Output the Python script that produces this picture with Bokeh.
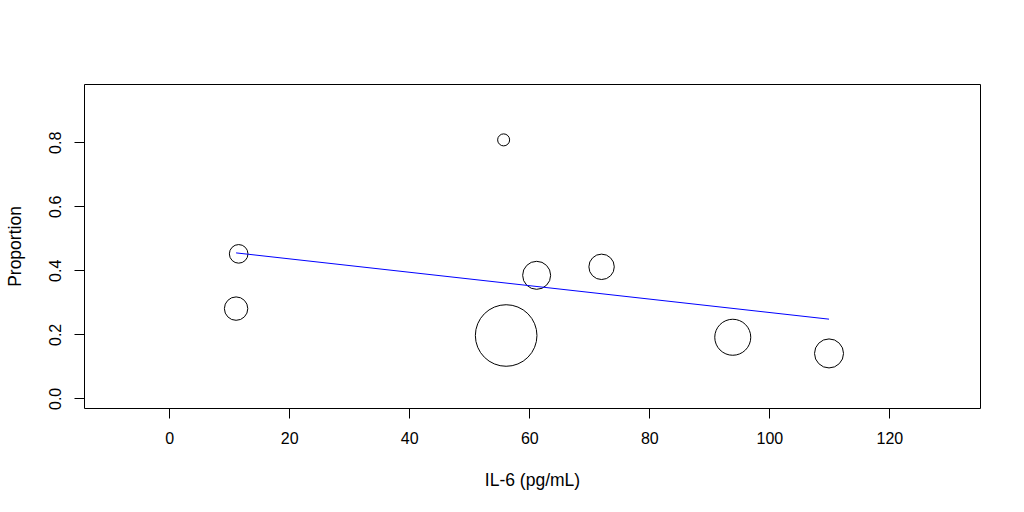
from bokeh.plotting import figure
from bokeh.models import Range1d, FixedTicker
from bokeh.embed import file_html
from bokeh.resources import INLINE

# Data (meta-regression bubble plot)
il6 = [11.06, 11.49, 55.64, 56.06, 61.14, 71.96, 93.82, 109.86]
proportion = [0.282, 0.453, 0.809, 0.198, 0.386, 0.4125, 0.1925, 0.142]
bubble_diameter = [23.4, 18.6, 12, 61.6, 28, 25.4, 36, 29]  # proportional to study weight
fit_intercept = 0.4792
fit_slope = -0.002095

x_ticks = [0, 20, 40, 60, 80, 100, 120]
y_ticks = [0.0, 0.2, 0.4, 0.6, 0.8]

FONT = "Liberation Sans"

p = figure(
    output_backend="svg", toolbar_location=None,
    frame_width=896, frame_height=324,
    min_border_left=84, min_border_top=84, min_border_right=36, min_border_bottom=96,
    x_range=Range1d(-14.2, 135.1), y_range=Range1d(-0.030, 0.982),
    x_axis_label="IL-6 (pg/mL)", y_axis_label="Proportion",
)
p.grid.visible = False
p.outline_line_color = "black"
p.outline_line_width = 1
p.outline_line_alpha = 1

p.xaxis.ticker = FixedTicker(ticks=x_ticks)
p.yaxis.ticker = FixedTicker(ticks=y_ticks)
p.yaxis.major_label_overrides = {t: f"{t:.1f}" for t in y_ticks}

for ax in (p.xaxis[0], p.yaxis[0]):
    ax.axis_line_color = None
    ax.minor_tick_line_color = None
    ax.major_tick_in = 0
    ax.major_tick_out = 10
    ax.major_tick_line_color = "black"
    ax.major_label_text_font = FONT
    ax.major_label_text_font_size = "16px"
    ax.major_label_text_color = "black"
    ax.axis_label_text_font = FONT
    ax.axis_label_text_font_size = "17.5px"
    ax.axis_label_text_font_style = "normal"
    ax.axis_label_text_color = "black"

p.xaxis.major_label_standoff = 13
p.xaxis.axis_label_standoff = 23
p.yaxis.major_label_orientation = "vertical"
p.yaxis.major_label_standoff = 13
p.yaxis.axis_label_standoff = 22

p.scatter(il6, proportion, size=bubble_diameter, marker="circle",
          fill_color=None, line_color="black", line_width=1)

x0, x1 = min(il6), max(il6)
p.line([x0, x1], [fit_intercept + fit_slope * x0, fit_intercept + fit_slope * x1],
       line_color="#0000FF", line_width=1)

open("out.html", "w").write(file_html(p, INLINE))
